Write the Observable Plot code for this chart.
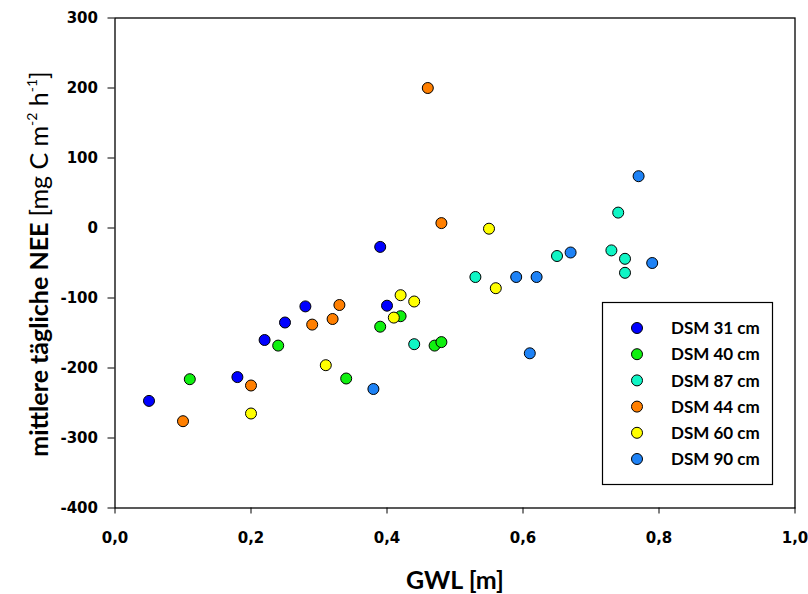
<!DOCTYPE html>
<html><head><meta charset="utf-8">
<script src="https://cdn.jsdelivr.net/npm/d3@7"></script>
<script src="https://cdn.jsdelivr.net/npm/@observablehq/plot@0.6"></script>
<style>body{margin:0;background:#fff} #chart svg{display:block}</style>
</head><body><div id="chart"></div>
<script>
const seriesNames = ["DSM 31 cm","DSM 40 cm","DSM 87 cm","DSM 44 cm","DSM 60 cm","DSM 90 cm"];
const seriesColors = ["#0000ff","#10f010","#10f5c5","#ff7f00","#ffff00","#1e82f5"];

const gwl31 = [0.05, 0.18, 0.22, 0.25, 0.28, 0.39, 0.40];
const nee31 = [-247, -213, -160, -135, -112, -27, -111];
const gwl40 = [0.11, 0.24, 0.34, 0.39, 0.42, 0.47, 0.48];
const nee40 = [-216, -168, -215, -141, -126, -168, -163];
const gwl87 = [0.44, 0.53, 0.65, 0.73, 0.75, 0.75, 0.74];
const nee87 = [-166, -70, -40, -32, -44, -64, 22];
const gwl44 = [0.10, 0.20, 0.29, 0.32, 0.33, 0.46, 0.48];
const nee44 = [-276, -225, -138, -130, -110, 200, 7];
const gwl60 = [0.20, 0.31, 0.41, 0.42, 0.44, 0.55, 0.56];
const nee60 = [-265, -196, -128, -96, -105, -1, -86];
const gwl90 = [0.38, 0.59, 0.62, 0.67, 0.61, 0.77, 0.79];
const nee90 = [-230, -70, -70, -35, -179, 74, -50];

const xTicks = [0, 0.2, 0.4, 0.6, 0.8, 1.0];
const yTicks = [-400, -300, -200, -100, 0, 100, 200, 300];
const xTitle = "GWL [m]";
const yTitleBold = "mittlere tägliche NEE";

const seriesX = [gwl31, gwl40, gwl87, gwl44, gwl60, gwl90];
const seriesY = [nee31, nee40, nee87, nee44, nee60, nee90];
const data = [];
seriesNames.forEach((name, i) => {
  seriesX[i].forEach((x, j) => data.push({series: name, gwl: x, nee: seriesY[i][j]}));
});

const W = 808, H = 594;
const tickFont = {fontFamily: "DejaVu Sans", fontSize: 15, fontWeight: "bold"};

const chart = Plot.plot({
  width: W, height: H,
  marginLeft: 114.5, marginRight: 13.5, marginTop: 17.5, marginBottom: 86.5,
  style: {background: "#fff", color: "#000", overflow: "visible"},
  x: {domain: [0, 1]},
  y: {domain: [-400, 300]},
  color: {domain: seriesNames, range: seriesColors},
  marks: [
    Plot.frame({stroke: "#000", strokeWidth: 1.3}),
    Plot.axisX({ticks: xTicks, tickSize: 6, tickPadding: 18, label: null,
      tickFormat: d => d.toFixed(1).replace(".", ","), ...tickFont}),
    Plot.axisY({ticks: yTicks, tickSize: 7, tickPadding: 10, label: null,
      tickFormat: d => String(d), ...tickFont}),
    Plot.dot(data, {x: "gwl", y: "nee", fill: "series", r: 5.5, stroke: "#000", strokeWidth: 1})
  ]
});
document.getElementById("chart").appendChild(chart);

const svg = d3.select(chart);
// x title
svg.append("text")
  .attr("x", 455).attr("y", 589)
  .attr("text-anchor", "middle")
  .attr("font-family", "Lato").attr("font-weight", "bold").attr("font-size", 25)
  .attr("fill", "#000")
  .text(xTitle);

// y title
const yt = svg.append("text")
  .attr("transform", "translate(48,264) rotate(-90)")
  .attr("text-anchor", "middle")
  .attr("font-family", "Lato").attr("font-size", 25).attr("fill", "#000");
yt.append("tspan").attr("font-weight", "bold").text(yTitleBold + " ");
yt.append("tspan").text("[mg C m");
yt.append("tspan").attr("font-size", 14).attr("dy", -11).text("-2");
yt.append("tspan").attr("dy", 11).text(" h");
yt.append("tspan").attr("font-size", 14).attr("dy", -11).text("-1");
yt.append("tspan").attr("dy", 11).text("]");

// legend
const lg = svg.append("g");
lg.append("rect").attr("x", 602.5).attr("y", 302.5).attr("width", 170).attr("height", 182)
  .attr("fill", "#fff").attr("stroke", "#000").attr("stroke-width", 1.2);
seriesNames.forEach((name, i) => {
  const cy = 328 + i * 26.2;
  lg.append("circle").attr("cx", 637).attr("cy", cy).attr("r", 5.5)
    .attr("fill", seriesColors[i]).attr("stroke", "#000").attr("stroke-width", 1);
  lg.append("text").attr("x", 671).attr("y", cy).attr("dy", "0.36em")
    .attr("text-anchor", "start")
    .attr("font-family", "Lato").attr("font-weight", "bold").attr("font-size", 17)
    .attr("fill", "#000").text(name);
});
</script>
</body></html>
